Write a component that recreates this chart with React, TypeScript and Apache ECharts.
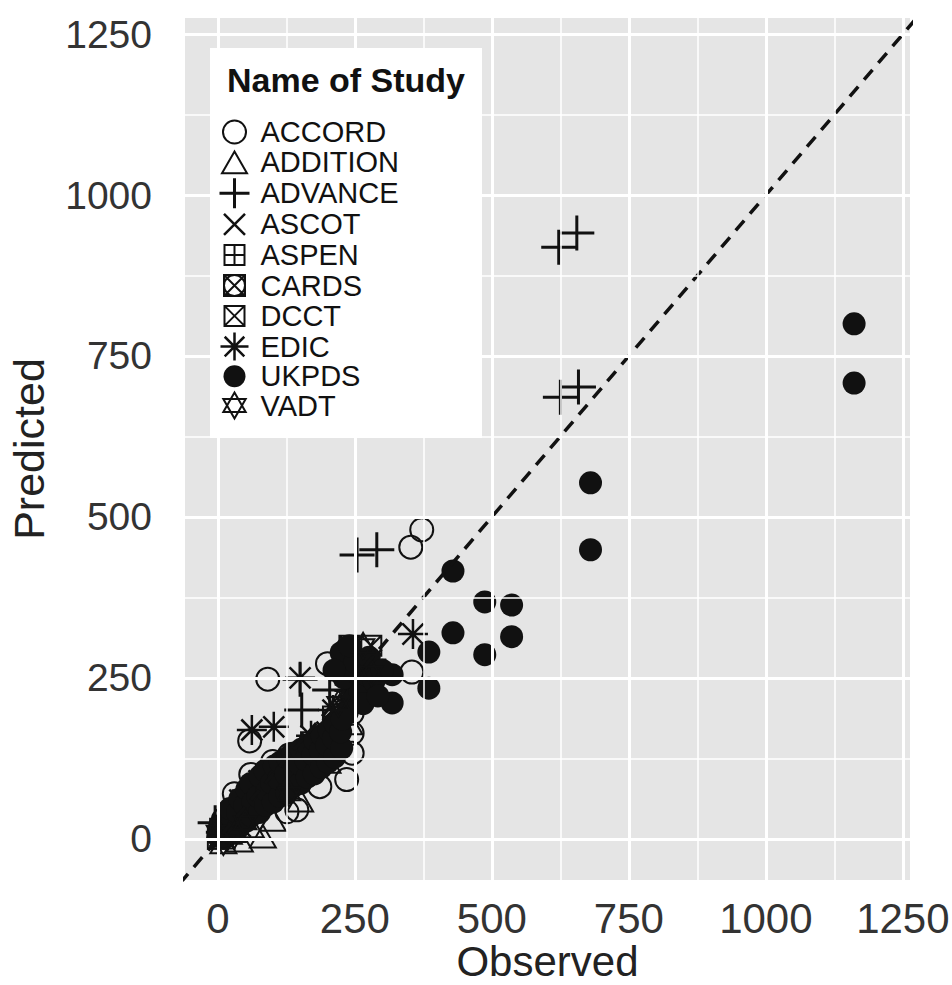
import React, { useEffect, useRef } from "react";
import * as echarts from "echarts";

const studies = ["ACCORD", "ADDITION", "ADVANCE", "ASCOT", "ASPEN", "CARDS", "DCCT", "EDIC", "UKPDS", "VADT"];

const xTicks = [0, 250, 500, 750, 1000, 1250];
const yTicks = [0, 250, 500, 750, 1000, 1250];
const minorTicks = [125, 375, 625, 875, 1125];

// [observed, predicted]
const accord = [
  [372, 480], [352, 453], [354, 259], [237, 296], [200, 272], [91, 248], [58, 152], [235, 92], [186, 81],
  [144, 45], [126, 42], [245, 164], [245, 133], [245, 195], [205, 145], [170, 110], [150, 95], [110, 80],
  [75, 60], [40, 35], [20, 15], [100, 120], [130, 130], [60, 100], [30, 70], [10, 30], [252, 255],
];
const addition = [
  [82, 4], [40, -2], [20, 10], [60, 20], [10, -5], [100, 30], [245, 222], [240, 180], [150, 60],
  [200, 120], [30, 45],
];
const advance = [
  [655, 941], [622, 919], [658, 702], [625, 686], [290, 449], [254, 441], [150, 248], [153, 200],
  [204, 231], [245, 240], [260, 280], [100, 90], [50, 40], [10, 10], [180, 140], [130, 100], [-5, 25],
];
const ascot = [[5, 5], [20, 25], [40, 20], [70, 60], [110, 95], [200, 165], [270, 240], [150, 130]];
const aspen = [[0, 0], [15, 10], [30, 30], [60, 50], [90, 80], [25, 15], [120, 100], [210, 190]];
const cards = [[5, 15], [35, 25], [55, 45], [80, 65], [140, 120], [230, 200], [260, 260]];
const dcct = [
  [10, 20], [25, 40], [45, 60], [65, 80], [95, 100], [125, 115], [170, 150], [230, 270], [280, 300], [240, 300],
];
const edic = [
  [356, 318], [150, 250], [62, 169], [102, 174], [280, 278], [240, 230], [40, 60], [20, 30], [75, 90],
  [170, 160], [210, 200],
];
const ukpds = [
  [1161, 800], [1161, 708], [680, 553], [680, 449], [429, 416], [487, 368], [536, 363], [536, 314],
  [429, 320], [487, 286], [385, 290], [385, 234], [318, 255], [318, 211], [225, 289], [246, 216],
  [259, 228], [230, 250], [270, 255], [250, 275], [285, 245], [265, 210], [240, 300], [212, 262],
  [276, 282], [292, 222], [236, 196], [300, 262],
  [0, 4], [3, 19], [13, 2], [11, 24], [24, 9], [27, 31], [22, 47], [38, 18], [36, 41], [40, 62],
  [51, 27], [49, 52], [53, 77], [61, 36], [64, 57], [60, 86], [76, 41], [73, 66], [77, 97],
  [87, 52], [90, 74], [86, 106], [101, 57], [98, 87], [103, 113], [113, 66], [111, 93], [114, 119],
  [126, 71], [124, 101], [127, 126], [137, 81], [140, 107], [136, 133], [151, 86], [149, 116],
  [152, 139], [163, 96], [160, 123], [164, 146], [176, 101], [174, 131], [177, 153], [189, 111],
  [187, 137], [190, 161], [201, 119], [199, 146], [203, 169], [213, 127], [211, 156], [214, 179],
  [226, 141], [224, 166], [227, 186],
];
const vadt = [[0, 10], [10, -5], [30, 5], [50, 25], [280, 258], [265, 300], [220, 210], [130, 70]];

const seriesData = [accord, addition, advance, ascot, aspen, cards, dcct, edic, ukpds, vadt];

const BOX = "M0 0M100 100";
const shapes = [
  "M50 0A50 50 0 1 1 50 100A50 50 0 1 1 50 0Z",
  "M50 6.5L100 93.5L0 93.5Z",
  "M50 0L50 100M0 50L100 50",
  "M0 0L100 100M100 0L0 100",
  "M0 0L100 0L100 100L0 100ZM50 0L50 100M0 50L100 50",
  "M0 0L100 0L100 100L0 100ZM50 0A50 50 0 1 1 50 100A50 50 0 1 1 50 0ZM0 0L100 100M100 0L0 100",
  "M0 0L100 0L100 100L0 100ZM0 0L100 100M100 0L0 100",
  "M50 0L50 100M0 50L100 50M15 15L85 85M85 15L15 85",
  "M50 0A50 50 0 1 1 50 100A50 50 0 1 1 50 0Z",
  "M50 0L93 75L7 75ZM50 100L7 25L93 25Z",
];
const plotSizes = [23, 26, 35, 22, 20, 21, 20, 30, 23, 26];
const legendSizes = [23, 25, 30, 21, 20, 21, 20, 28, 22, 26];
const filled = [false, false, false, false, false, false, false, false, true, false];
const strokeW = [2, 2, 3, 2.5, 2, 2, 2, 2.5, 0, 2];

const FONT = "Liberation Sans, Arial, sans-serif";

function legendIcon(i: number) {
  const p = (100 * 30 / legendSizes[i] - 100) / 2;
  return `path://M${-p} ${-p}M${100 + p} ${100 + p}` + shapes[i];
}

function styleFor(i: number) {
  return filled[i]
    ? { color: "#111", borderWidth: 0, opacity: 1 }
    : { color: "rgba(0,0,0,0)", borderColor: "#111", borderWidth: strokeW[i], opacity: 1 };
}

export default function App() {
  const ref = useRef<HTMLDivElement>(null);
  useEffect(() => {
    document.body.style.margin = "0";
    if (!ref.current) return;
    const chart = echarts.init(ref.current, undefined, { renderer: "svg" });

    const gridLines: any[] = [];
    xTicks.forEach((v) => gridLines.push({ xAxis: v, lineStyle: { width: 3 } }));
    minorTicks.forEach((v) => gridLines.push({ xAxis: v, lineStyle: { width: 1.5 } }));
    yTicks.forEach((v) => gridLines.push({ yAxis: v, lineStyle: { width: 3 } }));
    minorTicks.forEach((v) => gridLines.push({ yAxis: v, lineStyle: { width: 1.5 } }));

    const series: any[] = [
      {
        type: "scatter",
        name: "__grid",
        data: [],
        z: 1,
        silent: true,
        markLine: {
          silent: true,
          symbol: ["none", "none"],
          label: { show: false },
          lineStyle: { color: "#ffffff", type: "solid" },
          emphasis: { disabled: true },
          data: gridLines,
        },
      },
    ];
    studies.forEach((name, i) => {
      series.push({
        type: "scatter",
        name,
        data: seriesData[i],
        symbol: "path://" + BOX + shapes[i],
        symbolSize: plotSizes[i],
        itemStyle: styleFor(i),
        z: 2,
        silent: true,
        emphasis: { disabled: true },
      });
    });
    series.push({
      type: "line",
      name: "__identity",
      data: [[-200, -200], [1500, 1500]],
      symbol: "none",
      clip: true,
      z: 3,
      silent: true,
      lineStyle: { color: "#111", width: 3.5, type: [13, 9] },
    });

    const plain = (v: number) => String(v);

    chart.setOption({
      animation: false,
      textStyle: { fontFamily: FONT },
      grid: {
        left: 185,
        right: 42,
        top: 18,
        bottom: 105,
        outerBoundsMode: "none",
        containLabel: false,
        show: true,
        backgroundColor: "#E5E5E5",
        borderWidth: 0,
      },
      title: {
        text: "Name of Study",
        left: 227,
        top: 63,
        padding: 0,
        z: 7,
        textStyle: { fontSize: 34, fontWeight: "bold", color: "#111", fontFamily: FONT, lineHeight: 34 },
      },
      legend: {
        orient: "vertical",
        left: 218,
        top: 116,
        padding: 0,
        z: 6,
        itemWidth: 42,
        itemHeight: 30,
        itemGap: -1.6,
        selectedMode: false,
        symbolKeepAspect: true,
        textStyle: { fontSize: 29, lineHeight: 29, color: "#111", fontFamily: FONT },
        data: studies.map((name, i) => ({ name, icon: legendIcon(i), itemStyle: styleFor(i) })),
      },
      graphic: {
        elements: [
          {
            type: "rect",
            left: 210,
            top: 48,
            z: 5,
            shape: { width: 272, height: 390 },
            style: { fill: "#ffffff" },
          },
        ],
      },
      xAxis: {
        type: "value",
        min: -60,
        max: 1263,
        splitLine: { show: false },
        axisLine: { show: false },
        axisTick: { show: true, customValues: xTicks, length: 13, lineStyle: { color: "#8a8a8a", width: 3 } },
        axisLabel: { customValues: xTicks, formatter: plain, fontSize: 42, color: "#333", margin: 17, fontFamily: FONT },
        name: "Observed",
        nameLocation: "middle",
        nameGap: 60,
        nameMoveOverlap: false,
        nameTextStyle: { fontSize: 42, color: "#222", fontFamily: FONT },
      },
      yAxis: {
        type: "value",
        min: -64,
        max: 1275,
        splitLine: { show: false },
        axisLine: { show: false },
        axisTick: { show: true, customValues: yTicks, length: 15, lineStyle: { color: "#8a8a8a", width: 3 } },
        axisLabel: { customValues: yTicks, formatter: plain, fontSize: 39, color: "#333", margin: 33, fontFamily: FONT },
        name: "Predicted",
        nameLocation: "middle",
        nameGap: 135,
        nameMoveOverlap: false,
        nameTextStyle: { fontSize: 43, color: "#222", fontFamily: FONT },
      },
      series,
    });
    return () => chart.dispose();
  }, []);
  return <div ref={ref} style={{ width: 952, height: 985 }} />;
}
